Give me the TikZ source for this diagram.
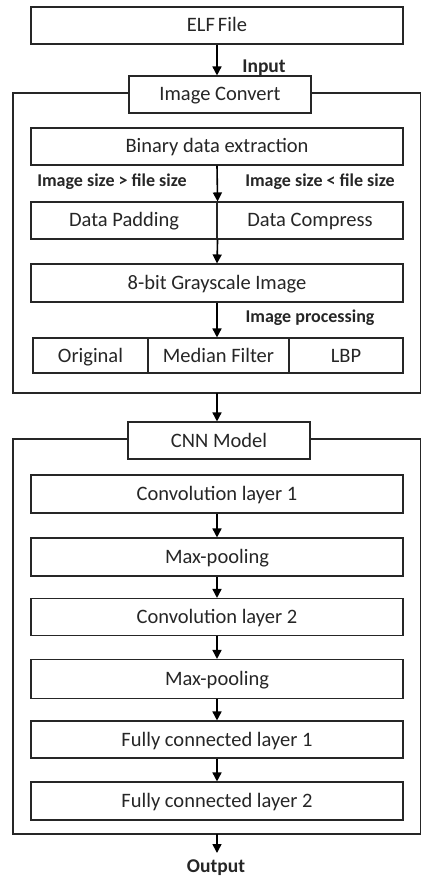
\documentclass[tikz,border=0pt]{standalone}
\usepackage{fontspec}
\setmainfont{Carlito}
\usetikzlibrary{arrows.meta}
\begin{document}
\begin{tikzpicture}[x=1pt,y=-1pt,
  box/.style={draw=black!85,line width=1.1pt,minimum height=37pt,inner sep=0pt,text height=15pt,text depth=2pt,font=\fontsize{20.5}{22}\selectfont,text=black!85},
  lbl/.style={font=\bfseries\fontsize{18}{20}\selectfont,text=black!85,inner sep=0pt},
  biglbl/.style={lbl,font=\bfseries\fontsize{19.5}{21}\selectfont},
  arr/.style={line width=1.6pt,-{Triangle[length=9pt,width=9pt]}},
  frame/.style={draw=black!85,line width=1.1pt}]
\useasboundingbox (0,0) rectangle (420,877);
\fill[white] (0,0) rectangle (420,877);
% frames
\draw[frame] (13,93) rectangle (421,393);
\draw[frame] (13,439) rectangle (421,834);
\coordinate (f1b) at (217,393);
\coordinate (f2b) at (217,834);
\coordinate (outtip) at (217,853);
% nodes
\node[box,minimum width=372pt] (elf) at (217,25.5) {ELF\hspace{3pt}File};
\node[box,fill=white,minimum width=182pt] (ic) at (220,94.5) {Image Convert};
\node[box,minimum width=372pt] (bin) at (217,146.5) {Binary data extraction};
\node[box,minimum width=186pt] (pad) at (124,220.5) {Data Padding};
\node[box,minimum width=186pt] (comp) at (310,220.5) {Data Compress};
\node[box,minimum width=372pt,minimum height=38pt] (gray) at (217,283) {8-bit Grayscale Image};
\node[box,minimum width=115pt,minimum height=35pt] (orig) at (90.5,355.5) {Original};
\node[box,minimum width=141pt,minimum height=35pt] (med) at (218.5,355.5) {Median Filter};
\node[box,minimum width=114pt,minimum height=35pt] (lbp) at (346,355.5) {LBP};
\node[box,fill=white,minimum width=182pt] (cnn) at (219,440.5) {CNN Model};
\node[box,minimum width=372pt,minimum height=38pt] (c1) at (217,494) {Convolution layer 1};
\node[box,minimum width=372pt,minimum height=38pt] (m1) at (217,557) {Max-pooling};
\node[box,minimum width=372pt,minimum height=37pt] (c2) at (217,617) {Convolution layer 2};
\node[box,minimum width=372pt,minimum height=39pt] (m2) at (217,679) {Max-pooling};
\node[box,minimum width=372pt,minimum height=37pt] (fc1) at (217,739.5) {Fully connected layer 1};
\node[box,minimum width=372pt,minimum height=38pt] (fc2) at (217,801) {Fully connected layer 2};
% labels
\node[biglbl] (linput) at (264,68) {Input};
\node[lbl] (lgt) at (112,182) {Image size > file size};
\node[lbl] (llt) at (320,182) {Image size < file size};
\node[lbl] (lproc) at (310,318) {Image processing};
\node[biglbl] (lout) at (216,868) {Output};
% arrows
\draw[arr] (elf.south) -- (elf.south |- ic.north);
\draw[arr] (bin.south) -- (pad.north east);
\draw[arr] (pad.south east) -- (gray.north);
\draw[arr] (gray.south) -- (gray.south |- med.north);
\draw[arr] (f1b) -- (f1b |- cnn.north);
\draw[arr] (c1.south) -- (m1.north);
\draw[arr] (m1.south) -- (c2.north);
\draw[arr] (c2.south) -- (m2.north);
\draw[arr] (m2.south) -- (fc1.north);
\draw[arr] (fc1.south) -- (fc2.north);
\draw[arr] (f2b) -- (outtip);
\end{tikzpicture}
\end{document}
